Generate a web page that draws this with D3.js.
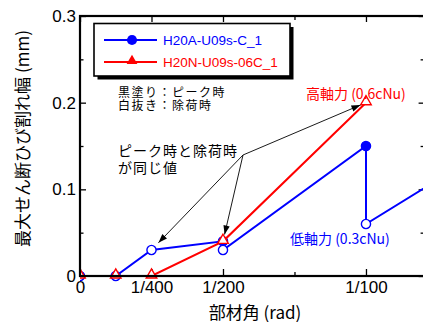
<!DOCTYPE html>
<html>
<head>
<meta charset="utf-8">
<script src="https://cdn.jsdelivr.net/npm/d3@7/dist/d3.min.js"></script>
<style>
  html, body { margin: 0; padding: 0; background: #fff; }
  svg { display: block; }
  .jp { font-family: "Noto Sans CJK JP", "Noto Sans", sans-serif; }
  .en { font-family: "Liberation Sans", Arial, sans-serif; }
</style>
</head>
<body>
<svg id="chart" width="423" height="322"></svg>
<script>
// Drift angle steps (rad) and crack widths (mm) at peak and after unloading
const driftA   = [0, 1/800, 1/400, 1/200, 1/100, 1/67];
const peakA    = [0, 0, 0.03, 0.04, 0.15, 0.16];
const unloadA  = [0, 0, 0.03, 0.03, 0.06, null];

const driftN   = [0, 1/800, 1/400, 1/200, 1/100];
const peakN    = [0, 0, 0, 0.04, 0.20];
const unloadN  = [0, 0, 0, 0.04, 0.20];

const seriesNames = ["H20A-U09s-C_1", "H20N-U09s-06C_1"];
const seriesColors = ["#0000ff", "#ff0000"];

const xMajor = [0, 1/400, 1/200, 1/100];
const xMajorLabels = ["0", "1/400", "1/200", "1/100"];
const xMinor = [3/400];
const yMajor = [0, 0.1, 0.2, 0.3];
const yMinor = [0.05, 0.15, 0.25];

const svg = d3.select("#chart");
const plotLeft = 80, plotRight = 424.6, plotTop = 16, plotBottom = 276;

const x = d3.scaleLinear().domain([0, 0.01205]).range([plotLeft, plotRight]);
const y = d3.scaleLinear().domain([0, 0.3]).range([plotBottom, plotTop]);

const defs = svg.append("defs");
defs.append("clipPath").attr("id", "plotClip")
  .append("rect").attr("x", plotLeft).attr("y", plotTop - 8)
  .attr("width", plotRight - plotLeft + 10).attr("height", plotBottom - plotTop + 16);

// Build a path: each step visits the peak value, then the unloading value
function buildSeries(drift, peak, unload) {
  const pts = [];
  drift.forEach((d, i) => {
    const p = peak[i], u = unload[i];
    if (u === null || p !== u) pts.push({ x: d, y: p, kind: "peak" });
    if (u !== null) pts.push({ x: d, y: u, kind: "unload" });
  });
  return pts;
}
const seriesA = buildSeries(driftA, peakA, unloadA);
const seriesN = buildSeries(driftN, peakN, unloadN);

// Axes (ticks point inward on all four sides)
function styleAxis(g) {
  g.select(".domain").remove();
  g.selectAll(".tick line").attr("stroke", "#000").attr("stroke-width", 1.3);
}
svg.append("g").attr("transform", `translate(0,${plotBottom})`)
  .call(d3.axisBottom(x).tickValues(xMajor).tickSize(-7).tickPadding(5)
    .tickFormat((d, i) => xMajorLabels[i]))
  .call(styleAxis)
  .call(g => g.selectAll("text").attr("class", "en").attr("font-size", 17).attr("fill", "#000"));
svg.append("g").attr("transform", `translate(0,${plotBottom})`)
  .call(d3.axisBottom(x).tickValues(xMinor).tickSize(-4).tickFormat(""))
  .call(styleAxis);
svg.append("g").attr("transform", `translate(0,${plotTop})`)
  .call(d3.axisTop(x).tickValues(xMajor).tickSize(-6).tickFormat(""))
  .call(styleAxis);
svg.append("g").attr("transform", `translate(0,${plotTop})`)
  .call(d3.axisTop(x).tickValues(xMinor).tickSize(-4).tickFormat(""))
  .call(styleAxis);

svg.append("g").attr("transform", `translate(${plotLeft},0)`)
  .call(d3.axisLeft(y).tickValues(yMajor).tickSize(-6).tickPadding(4)
    .tickFormat(d => d === 0 ? "0" : d3.format(".1f")(d)))
  .call(styleAxis)
  .call(g => g.selectAll("text").attr("class", "en").attr("font-size", 17).attr("fill", "#000"));
svg.append("g").attr("transform", `translate(${plotLeft},0)`)
  .call(d3.axisLeft(y).tickValues(yMinor).tickSize(-3.5).tickFormat(""))
  .call(styleAxis);
svg.append("g").attr("transform", `translate(${plotRight},0)`)
  .call(d3.axisRight(y).tickValues(yMajor).tickSize(-6).tickFormat(""))
  .call(styleAxis);
svg.append("g").attr("transform", `translate(${plotRight},0)`)
  .call(d3.axisRight(y).tickValues(yMinor).tickSize(-4).tickFormat(""))
  .call(styleAxis);

// Data lines and markers
const plot = svg.append("g").attr("clip-path", "url(#plotClip)");
const line = d3.line().x(d => x(d.x)).y(d => y(d.y));

function drawSeries(pts, color, shape) {
  plot.append("path").datum(pts).attr("d", line)
    .attr("fill", "none").attr("stroke", color).attr("stroke-width", 2);
  const sym = d3.symbol().type(shape === "circle" ? d3.symbolCircle : d3.symbolTriangle)
    .size(shape === "circle" ? 66 : 48);
  plot.selectAll(null).data(pts).enter().append("path")
    .attr("d", sym)
    .attr("transform", d => `translate(${x(d.x)},${y(d.y) - (shape === "circle" ? 0 : 1)})`)
    .attr("fill", d => d.kind === "peak" ? color : "#fff")
    .attr("stroke", color).attr("stroke-width", 1.4);
}
drawSeries(seriesA, seriesColors[0], "circle");
drawSeries(seriesN, seriesColors[1], "triangle");

// Frame
svg.append("rect").attr("x", plotLeft).attr("y", plotTop)
  .attr("width", plotRight - plotLeft).attr("height", plotBottom - plotTop)
  .attr("fill", "none").attr("stroke", "#000").attr("stroke-width", 2.2);

// Legend with drop shadow
const lg = svg.append("g");
lg.append("rect").attr("x", 97.5).attr("y", 27).attr("width", 196).attr("height", 52.5).attr("fill", "#000");
lg.append("rect").attr("x", 94).attr("y", 23.5).attr("width", 196).attr("height", 52.5)
  .attr("fill", "#fff").attr("stroke", "#000").attr("stroke-width", 1.6);
const legendRows = [40, 62];
seriesNames.forEach((name, i) => {
  const ly = legendRows[i];
  lg.append("line").attr("x1", 104).attr("x2", 157).attr("y1", ly).attr("y2", ly)
    .attr("stroke", seriesColors[i]).attr("stroke-width", 2);
  lg.append("path")
    .attr("d", d3.symbol().type(i === 0 ? d3.symbolCircle : d3.symbolTriangle).size(i === 0 ? 80 : 50))
    .attr("transform", `translate(132,${ly - (i === 0 ? 0 : 1)})`)
    .attr("fill", seriesColors[i]);
  lg.append("text").attr("class", "en").attr("x", 163).attr("y", ly + 5)
    .attr("font-size", 13.5).attr("fill", seriesColors[i]).text(name);
});

// Notes (multi-line notes are one text element with a tspan per line)
function note(tx, ty, size, color, lines, lineGap, spacing) {
  const t = svg.append("text").attr("class", "jp").attr("x", tx).attr("y", ty)
    .attr("font-size", size).attr("letter-spacing", spacing || 0).attr("fill", color);
  lines.forEach((s, i) => {
    t.append("tspan").attr("x", tx).attr("dy", i === 0 ? 0 : lineGap).text(s);
  });
}
note(118, 97, 12, "#000", ["黒塗り：ピーク時", "白抜き：除荷時"], 13, 1.5);
note(118, 156, 14, "#000", ["ピーク時と除荷時", "が同じ値"], 16.5, 1);
note(306, 98.5, 14, seriesColors[1], ["高軸力 (0.6cNu)"]);
note(290, 243.5, 14, seriesColors[0], ["低軸力 (0.3cNu)"]);

// Arrows from the note to the points where peak and unloading values coincide
defs.append("marker").attr("id", "arrowHead")
  .attr("markerUnits", "userSpaceOnUse").attr("markerWidth", 12).attr("markerHeight", 8)
  .attr("viewBox", "-10 -4 11 8").attr("refX", 0).attr("refY", 0).attr("orient", "auto")
  .append("path").attr("d", "M0,0 L-9,-3.2 L-9,3.2 Z").attr("fill", "#000");
const origin = [243, 155];
const arrowTargets = [
  { p: [1/100, 0.20], gap: 6 },
  { p: [1/400, 0.03], gap: 10 },
  { p: [1/200, 0.04], gap: 7 }
];
arrowTargets.forEach(t => {
  const tx = x(t.p[0]), ty = y(t.p[1]);
  const dx = tx - origin[0], dy = ty - origin[1];
  const len = Math.hypot(dx, dy);
  svg.append("line")
    .attr("x1", origin[0]).attr("y1", origin[1])
    .attr("x2", tx - dx / len * t.gap).attr("y2", ty - dy / len * t.gap)
    .attr("stroke", "#000").attr("stroke-width", 0.9)
    .attr("marker-end", "url(#arrowHead)");
});

// Axis titles
svg.append("text").attr("class", "jp").attr("font-size", 17)
  .attr("text-anchor", "middle").attr("dominant-baseline", "central")
  .attr("transform", "translate(21.5,138.5) rotate(-90)")
  .text("最大せん断ひび割れ幅 (mm)");
svg.append("text").attr("class", "jp").attr("font-size", 17)
  .attr("text-anchor", "middle").attr("dominant-baseline", "central")
  .attr("x", 255).attr("y", 311)
  .text("部材角 (rad)");
</script>
</body>
</html>
